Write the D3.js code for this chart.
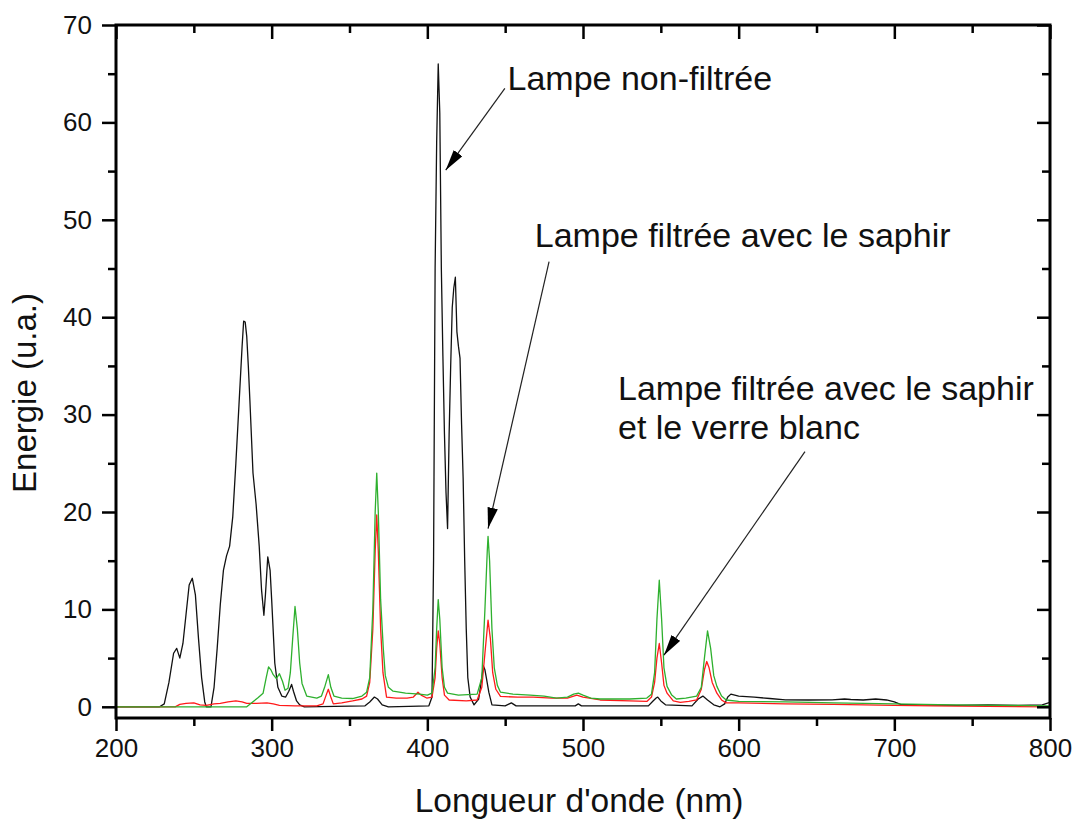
<!DOCTYPE html>
<html>
<head>
<meta charset="utf-8">
<script src="https://cdn.jsdelivr.net/npm/d3@7"></script>
<style>
  body { margin: 0; background: #fff; }
  svg { font-family: "Liberation Sans", Arial, sans-serif; }
</style>
</head>
<body>
<div class="chart"></div>
<script>
// spectra: [wavelength nm, energy u.a.]
const lampeNonFiltree = [
  [200,0],[228,0],[231,0.3],[234,2.5],[237,5.5],[239,6.0],[241,5.0],[243,6.5],[245,9.5],[247,12.5],[249,13.2],
  [251,11.5],[253,7],[255,3],[257,0.5],[258,0],[261,0],[263,2],[265,6],[267,10.5],[269,14],[271,15.5],[273,16.5],
  [275,19.5],[277,25],[279,31],[281,37],[282,39.6],[283,39.5],[284,38],[285,35],[286,31.5],[288,24],[290,20.8],
  [292,16.5],[293.5,12],[295,9.4],[296,11.5],[297.5,15.4],[299,14],[300,11],[302,4.5],[304,2],[306.5,1.1],[309,1.0],
  [311,1.6],[312.8,2.3],[314,1.6],[316,0.6],[318,0.2],[321,0],[360,0.1],[363,0.5],[366,1.0],[368,0.8],[371,0.2],
  [375,0],[401,0.1],[403,1],[404,15],[405,45],[406,58],[407,66],[408,61],[409,45],[410,36],[411,28],[412,22],
  [413,18.3],[414,28],[415,35],[416,41],[417,43],[418,44.1],[419,38.5],[420,37],[421,35.8],[422,29],[423,23.5],
  [424,15],[425,8],[426,3],[427.5,1],[430,0.2],[433,0.8],[435,3],[436,4.2],[437,3.8],[438,2.9],[439.5,1.5],
  [441.5,0.2],[450,0.1],[454,0.4],[457,0.1],[495,0.1],[497,0.3],[499,0.1],[542,0.1],[545,0.6],[547,0.9],[548,1.0],
  [550,0.6],[553,0.2],[570,0.1],[574,0.8],[577,1.1],[580,0.7],[584,0.2],[588,0],[591,0.3],[593,1.0],[595,1.3],
  [600,1.1],[610,1.0],[620,0.85],[630,0.72],[645,0.7],[660,0.72],[668,0.8],[672,0.75],[680,0.7],[688,0.8],
  [695,0.7],[700,0.5],[704,0.25],[720,0.2],[740,0.15],[760,0.2],[780,0.15],[795,0.2],[800,0.45]
]

const lampeSaphir = [
  [200,0],[284,0],[287,0.4],[291,0.9],[294.5,1.4],[296.5,3],[298,4.1],[299.5,3.8],[301,3.3],[303,2.9],[305,3.4],
  [307,2.6],[308.6,1.7],[310.5,1.9],[312,3.5],[313.5,7],[315,10.3],[316.5,8],[318,4.5],[319.5,2.4],[322.5,1.1],
  [329,0.9],[332,1.1],[334,2],[336.4,3.3],[338,2],[340,1.1],[345,0.9],[352,0.85],[358,1.1],[361,1.5],[363,3],
  [365,10],[366.5,20],[367.5,24],[368.5,20],[370,11],[371.7,6.0],[373,3.2],[375,2],[378,1.6],[386,1.4],[395,1.3],
  [400,1.2],[403,1.4],[405,4],[406,8],[407,11],[408,9],[409.5,4],[411,2],[413,1.4],[420,1.2],[432,1.3],[435,3],
  [437,10],[438.5,16],[439,17.5],[440,15],[441.5,8],[443,4],[445,2.2],[447,1.5],[455,1.3],[466,1.2],[475,1.1],
  [483,0.9],[490,1.0],[494,1.3],[497,1.4],[500,1.2],[505,0.9],[511,0.8],[530,0.8],[541,0.9],[544,1.3],[546,3.5],
  [547.5,9],[549,13],[550.5,9],[552,4],[554,2.1],[557,1.2],[560,0.8],[566,0.9],[573,1.1],[576,2],[578,5],
  [580,7.8],[582,6],[584,3.2],[586,2.1],[589,1.1],[592,0.7],[600,0.55],[630,0.5],[661,0.4],[700,0.3],[738,0.2],
  [770,0.15],[800,0.1]
]

const lampeSaphirVerre = [
  [200,0],[238,0],[241,0.25],[245,0.35],[250,0.4],[254,0.2],[258,0.15],[263,0.3],[267,0.35],[272,0.5],[277,0.6],
  [281,0.5],[284,0.35],[290,0.35],[297,0.4],[301,0.3],[305,0.15],[315,0.1],[329,0.1],[333,0.3],[335,1.2],
  [336.4,1.8],[338,1.0],[339.6,0.3],[345,0.4],[352,0.6],[358,0.8],[361,1.1],[363,2.5],[365,8],[366.5,16],
  [367.5,19.7],[368.5,16],[370,8],[371.5,3.5],[373.8,1.0],[380,0.9],[387,0.9],[391,1.0],[394,1.5],[396,1.2],
  [399.6,0.9],[403,1.0],[405,3],[406,6],[407,7.8],[408,6.5],[409.5,3],[411,1.2],[414,0.7],[425,0.6],[432,0.7],
  [435,2],[437,5.5],[439,8.9],[440.5,7],[442,3.5],[444,1.8],[447,1.06],[458,1.0],[468,1.0],[480,0.9],[490,0.9],
  [496,1.2],[500,1.0],[511,0.7],[530,0.6],[541,0.55],[544,1.0],[546,2.5],[547.5,5],[549,6.5],[550.5,4.5],
  [552,2.2],[554,1.4],[558,0.6],[562.5,0.45],[568,0.55],[573,0.7],[576,1.8],[578,3.8],[579.5,4.65],[581,4],
  [583,2.5],[586,1.4],[589,0.7],[592,0.4],[600,0.4],[630,0.3],[661,0.25],[700,0.15],[725,0.1],[760,0.05],[800,0]
]

const xTicks = [200,300,400,500,600,700,800]
const xMinor = [250,350,450,550,650,750]
const yTicks = [0,10,20,30,40,50,60,70]
const yMinor = [5,15,25,35,45,55,65]

// annotations: text lines, arrow [from nm, from val] -> [to nm, to val]
const notes = [
  {lines:['Lampe non-filtrée'], at:[451.5,63.3], from:[449.8,63.5], to:[411.8,55.1]},
  {lines:['Lampe filtrée avec le saphir'], at:[469,47.2], from:[478.2,45.7], to:[439,18.3]},
  {lines:['Lampe filtrée avec le saphir','et le verre blanc'], at:[522.5,31.5], from:[642.6,26.2], to:[552,5.3]}
]

const W = 1080, H = 821
const mLeft = 116, mRight = 1050, mTop = 25, mBottom = 718

const svg = d3.select('.chart').append('svg')
  .attr('width', W)
  .attr('height', H)

const x = d3.scaleLinear().domain([200,800]).range([mLeft,mRight])
const y = d3.scaleLinear().domain([-1.15,70]).range([mBottom,mTop])

svg.append('clipPath').attr('id','clip')
  .append('rect').attr('x',mLeft).attr('y',mTop).attr('width',mRight-mLeft).attr('height',mBottom-mTop)

let line = d3.line()
  .x(d => x(d[0]))
  .y(d => y(d[1]))

const series = [
  {data: lampeNonFiltree, color: '#111111'},
  {data: lampeSaphirVerre, color: '#ff1a1a'},
  {data: lampeSaphir, color: '#2eb02e'}
]
series.forEach(s => {
  svg.append('path')
    .datum(s.data)
    .attr('clip-path','url(#clip)')
    .attr('d', line)
    .attr('fill','none')
    .attr('stroke', s.color)
    .attr('stroke-width', 1.3)
    .attr('stroke-linejoin','round')
})

// axes: major + minor ticks, bottom/left outward, top/right inward
function styleAxis(g){
  g.select('.domain').remove()
  g.selectAll('.tick line').attr('stroke','#000').attr('stroke-width',2.5)
  g.selectAll('.tick text')
    .attr('font-family','"Liberation Sans", Arial, sans-serif')
    .attr('font-size',26)
    .attr('fill','#111')
}

const axes = [
  {fn: () => d3.axisBottom(x), t: 'translate(0,'+mBottom+')', major: xTicks, minor: xMinor, size: 13, pad: 8, labels: true},
  {fn: () => d3.axisTop(x), t: 'translate(0,'+mTop+')', major: xTicks, minor: xMinor, size: -14, pad: 0, labels: false},
  {fn: () => d3.axisLeft(y), t: 'translate('+mLeft+',0)', major: yTicks, minor: yMinor, size: 14, pad: 10, labels: true},
  {fn: () => d3.axisRight(y), t: 'translate('+mRight+',0)', major: yTicks, minor: yMinor, size: -13, pad: 0, labels: false}
]
axes.forEach(a => {
  let minorSize = a.size > 0 ? 8 : -8
  svg.append('g')
    .attr('transform', a.t)
    .call(a.fn().tickValues(a.minor).tickSize(minorSize).tickFormat(''))
    .call(styleAxis)
  svg.append('g')
    .attr('transform', a.t)
    .call(a.fn().tickValues(a.major).tickSize(a.size).tickPadding(a.pad)
      .tickFormat(a.labels ? d3.format('d') : ''))
    .call(styleAxis)
})

svg.append('rect')
  .attr('x',mLeft).attr('y',mTop)
  .attr('width',mRight-mLeft).attr('height',mBottom-mTop)
  .attr('fill','none')
  .attr('stroke','#000')
  .attr('stroke-width',3)

// axis titles
svg.append('text')
  .attr('x',579).attr('y',812)
  .attr('text-anchor','middle')
  .attr('font-size',33.5)
  .attr('fill','#111')
  .text("Longueur d'onde (nm)")

svg.append('text')
  .attr('transform','translate(36,393) rotate(-90)')
  .attr('text-anchor','middle')
  .attr('font-size',33)
  .attr('fill','#111')
  .text('Energie (u.a.)')

// annotations with arrows
svg.append('defs').append('marker')
  .attr('id','head')
  .attr('viewBox','0 0 20 10')
  .attr('refX',20).attr('refY',5)
  .attr('markerWidth',21).attr('markerHeight',11)
  .attr('markerUnits','userSpaceOnUse')
  .attr('orient','auto')
  .append('path').attr('d','M0,0 L20,5 L0,10 Z').attr('fill','#000')

notes.forEach(n => {
  svg.append('line')
    .attr('x1', x(n.from[0])).attr('y1', y(n.from[1]))
    .attr('x2', x(n.to[0])).attr('y2', y(n.to[1]))
    .attr('stroke','#222')
    .attr('stroke-width',1.2)
    .attr('marker-end','url(#head)')
  n.lines.forEach((l,i) => {
    svg.append('text')
      .attr('x', x(n.at[0]))
      .attr('y', y(n.at[1]) + i*39)
      .attr('font-size',34)
      .attr('fill','#111')
      .text(l)
  })
})
</script>
</body>
</html>
